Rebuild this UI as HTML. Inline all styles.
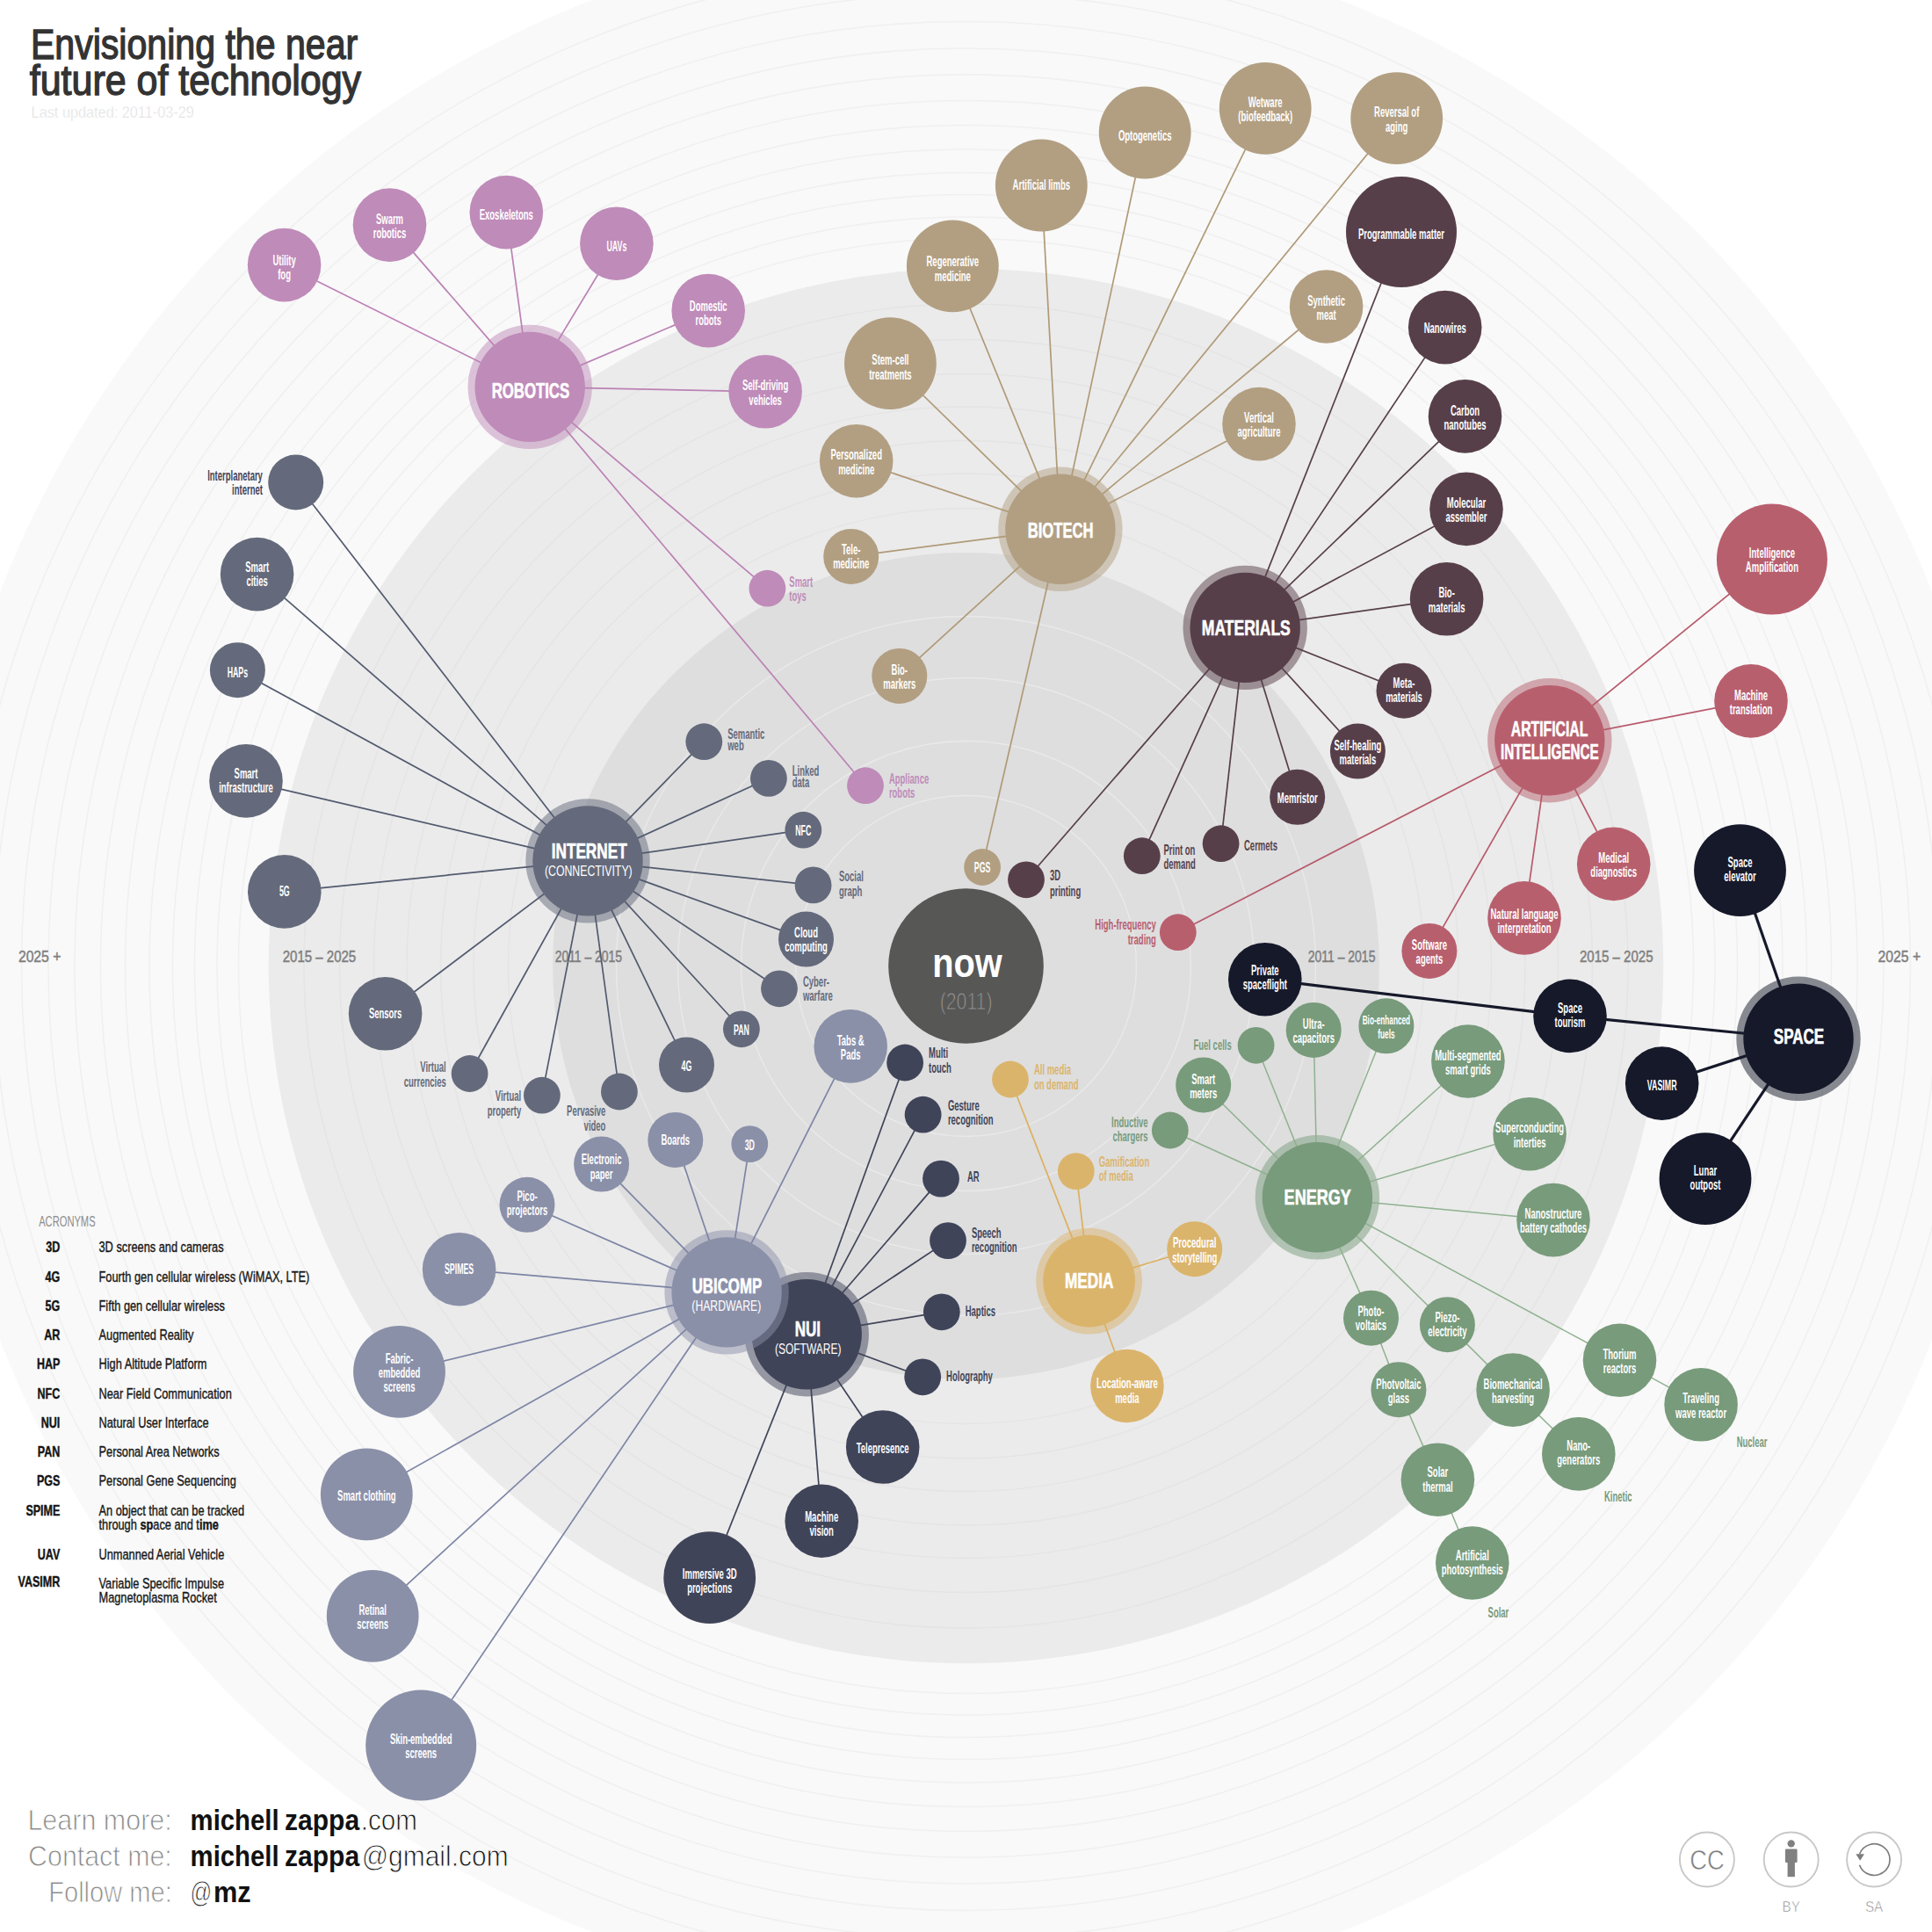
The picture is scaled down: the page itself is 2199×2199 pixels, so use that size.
<!DOCTYPE html>
<html lang="en"><head><meta charset="utf-8"><title>Envisioning the near future of technology</title>
<style>html,body{margin:0;padding:0;background:#fff}svg{display:block}text{font-family:"Liberation Sans",sans-serif}</style></head>
<body><svg width="2199" height="2199" viewBox="0 0 2199 2199">
<circle cx="1099.5" cy="1099.5" r="1179" fill="#f9f9f9"/>
<circle cx="1099.5" cy="1099.5" r="828" fill="none" stroke="#f0f0f0" stroke-width="1.6"/>
<circle cx="1099.5" cy="1099.5" r="852.5" fill="none" stroke="#f0f0f0" stroke-width="1.6"/>
<circle cx="1099.5" cy="1099.5" r="878" fill="none" stroke="#f0f0f0" stroke-width="1.6"/>
<circle cx="1099.5" cy="1099.5" r="903" fill="none" stroke="#f0f0f0" stroke-width="1.6"/>
<circle cx="1099.5" cy="1099.5" r="929.5" fill="none" stroke="#f0f0f0" stroke-width="1.6"/>
<circle cx="1099.5" cy="1099.5" r="957" fill="none" stroke="#f0f0f0" stroke-width="1.6"/>
<circle cx="1099.5" cy="1099.5" r="985" fill="none" stroke="#f0f0f0" stroke-width="1.6"/>
<circle cx="1099.5" cy="1099.5" r="1014.6" fill="none" stroke="#f0f0f0" stroke-width="1.6"/>
<circle cx="1099.5" cy="1099.5" r="1044.5" fill="none" stroke="#f0f0f0" stroke-width="1.6"/>
<circle cx="1099.5" cy="1099.5" r="1075" fill="none" stroke="#f0f0f0" stroke-width="1.6"/>
<circle cx="1099.5" cy="1099.5" r="1107" fill="none" stroke="#f0f0f0" stroke-width="1.6"/>
<circle cx="1099.5" cy="1099.5" r="1139" fill="none" stroke="#f0f0f0" stroke-width="1.6"/>
<circle cx="1099.5" cy="1099.5" r="793.7" fill="#ebebeb"/>
<circle cx="1099.5" cy="1099.5" r="521" fill="none" stroke="#e4e4e4" stroke-width="1.4"/>
<circle cx="1099.5" cy="1099.5" r="560.5" fill="none" stroke="#e4e4e4" stroke-width="1.4"/>
<circle cx="1099.5" cy="1099.5" r="598" fill="none" stroke="#e4e4e4" stroke-width="1.4"/>
<circle cx="1099.5" cy="1099.5" r="636.5" fill="none" stroke="#e4e4e4" stroke-width="1.4"/>
<circle cx="1099.5" cy="1099.5" r="674" fill="none" stroke="#e4e4e4" stroke-width="1.4"/>
<circle cx="1099.5" cy="1099.5" r="713" fill="none" stroke="#e4e4e4" stroke-width="1.4"/>
<circle cx="1099.5" cy="1099.5" r="753.5" fill="none" stroke="#e4e4e4" stroke-width="1.4"/>
<circle cx="1099.5" cy="1099.5" r="470.4" fill="#dedede"/>
<circle cx="1099.5" cy="1099.5" r="194" fill="none" stroke="#e9e9e9" stroke-width="1.4"/>
<circle cx="1099.5" cy="1099.5" r="256" fill="none" stroke="#e9e9e9" stroke-width="1.4"/>
<circle cx="1099.5" cy="1099.5" r="328" fill="none" stroke="#e9e9e9" stroke-width="1.4"/>
<circle cx="1099.5" cy="1099.5" r="398" fill="none" stroke="#e9e9e9" stroke-width="1.4"/>
<text x="20.9" y="1095.3" font-size="18.5" fill="#808080" text-anchor="start" textLength="48.5" lengthAdjust="spacingAndGlyphs" stroke="#808080" stroke-width="0.5">2025 +</text>
<text x="321.7" y="1095.3" font-size="18.5" fill="#808080" text-anchor="start" textLength="83.5" lengthAdjust="spacingAndGlyphs" stroke="#808080" stroke-width="0.5">2015 – 2025</text>
<text x="631.7" y="1095.3" font-size="18.5" fill="#808080" text-anchor="start" textLength="76.3" lengthAdjust="spacingAndGlyphs" stroke="#808080" stroke-width="0.5">2011 – 2015</text>
<text x="1488.8" y="1095.3" font-size="18.5" fill="#808080" text-anchor="start" textLength="76.6" lengthAdjust="spacingAndGlyphs" stroke="#808080" stroke-width="0.5">2011 – 2015</text>
<text x="1798.0" y="1095.3" font-size="18.5" fill="#808080" text-anchor="start" textLength="83.5" lengthAdjust="spacingAndGlyphs" stroke="#808080" stroke-width="0.5">2015 – 2025</text>
<text x="2137.6" y="1095.3" font-size="18.5" fill="#808080" text-anchor="start" textLength="48.5" lengthAdjust="spacingAndGlyphs" stroke="#808080" stroke-width="0.5">2025 +</text>
<g id="g-ROBOTICS">
<circle cx="603.2" cy="440.4" r="70.7" fill="#bf8bb9" fill-opacity="0.5"/>
<g stroke="#bb82b4" stroke-width="1.7" fill="none">
<line x1="603.2" y1="440.4" x2="323.6" y2="301.6"/>
<line x1="603.2" y1="440.4" x2="443.5" y2="256.1"/>
<line x1="603.2" y1="440.4" x2="576.3" y2="241.6"/>
<line x1="603.2" y1="440.4" x2="701.9" y2="277.2"/>
<line x1="603.2" y1="440.4" x2="806.2" y2="353.6"/>
<line x1="603.2" y1="440.4" x2="871.1" y2="445.8"/>
<line x1="603.2" y1="440.4" x2="873.4" y2="669.7"/>
<line x1="603.2" y1="440.4" x2="985" y2="894.2"/>
</g>
<circle cx="603.2" cy="440.4" r="62.7" fill="#bf8bb9"/>
<circle cx="323.6" cy="301.6" r="41.8" fill="#bf8bb9"/>
<circle cx="443.5" cy="256.1" r="41.8" fill="#bf8bb9"/>
<circle cx="576.3" cy="241.6" r="41.8" fill="#bf8bb9"/>
<circle cx="701.9" cy="277.2" r="41.8" fill="#bf8bb9"/>
<circle cx="806.2" cy="353.6" r="41.8" fill="#bf8bb9"/>
<circle cx="871.1" cy="445.8" r="41.8" fill="#bf8bb9"/>
<circle cx="873.4" cy="669.7" r="20.9" fill="#bf8bb9"/>
<circle cx="985" cy="894.2" r="20.9" fill="#bf8bb9"/>
<text x="323.6" y="302.2" font-size="16.5" fill="#fff" text-anchor="middle" font-weight="bold" textLength="26.4" lengthAdjust="spacingAndGlyphs">Utility</text>
<text x="323.6" y="318.4" font-size="16.5" fill="#fff" text-anchor="middle" font-weight="bold" textLength="14.8" lengthAdjust="spacingAndGlyphs">fog</text>
<text x="443.5" y="254.7" font-size="16.5" fill="#fff" text-anchor="middle" font-weight="bold" textLength="31.1" lengthAdjust="spacingAndGlyphs">Swarm</text>
<text x="443.5" y="270.9" font-size="16.5" fill="#fff" text-anchor="middle" font-weight="bold" textLength="37.4" lengthAdjust="spacingAndGlyphs">robotics</text>
<text x="576.3" y="250.2" font-size="16.5" fill="#fff" text-anchor="middle" font-weight="bold" textLength="61.2" lengthAdjust="spacingAndGlyphs">Exoskeletons</text>
<text x="701.9" y="286.0" font-size="16.5" fill="#fff" text-anchor="middle" font-weight="bold" textLength="22.9" lengthAdjust="spacingAndGlyphs">UAVs</text>
<text x="806.2" y="354.2" font-size="16.5" fill="#fff" text-anchor="middle" font-weight="bold" textLength="42.7" lengthAdjust="spacingAndGlyphs">Domestic</text>
<text x="806.2" y="370.4" font-size="16.5" fill="#fff" text-anchor="middle" font-weight="bold" textLength="29.5" lengthAdjust="spacingAndGlyphs">robots</text>
<text x="871.1" y="444.4" font-size="16.5" fill="#fff" text-anchor="middle" font-weight="bold" textLength="52.2" lengthAdjust="spacingAndGlyphs">Self-driving</text>
<text x="871.1" y="460.6" font-size="16.5" fill="#fff" text-anchor="middle" font-weight="bold" textLength="37.5" lengthAdjust="spacingAndGlyphs">vehicles</text>
<text x="898.3" y="667.8" font-size="16.5" fill="#bf8bb9" text-anchor="start" font-weight="bold" textLength="26.9" lengthAdjust="spacingAndGlyphs">Smart</text>
<text x="898.3" y="684.1" font-size="16.5" fill="#bf8bb9" text-anchor="start" font-weight="bold" textLength="19.5" lengthAdjust="spacingAndGlyphs">toys</text>
<text x="1011.9" y="891.5" font-size="16.5" fill="#bf8bb9" text-anchor="start" font-weight="bold" textLength="45.3" lengthAdjust="spacingAndGlyphs">Appliance</text>
<text x="1011.9" y="908.2" font-size="16.5" fill="#bf8bb9" text-anchor="start" font-weight="bold" textLength="29.5" lengthAdjust="spacingAndGlyphs">robots</text>
<text x="603.9" y="452.8" font-size="24.1" fill="#fff" text-anchor="middle" font-weight="bold" textLength="88.5" lengthAdjust="spacingAndGlyphs" stroke="#fff" stroke-width="0.6">ROBOTICS</text>
</g>
<g id="g-BIOTECH">
<circle cx="1206.9" cy="602.3" r="70.7" fill="#b29f82" fill-opacity="0.5"/>
<g stroke="#b09a78" stroke-width="1.7" fill="none">
<line x1="1206.9" y1="602.3" x2="968.7" y2="633.4"/>
<line x1="1206.9" y1="602.3" x2="974.7" y2="524.7"/>
<line x1="1206.9" y1="602.3" x2="1013.4" y2="413.6"/>
<line x1="1206.9" y1="602.3" x2="1084.3" y2="302.8"/>
<line x1="1206.9" y1="602.3" x2="1185.3" y2="211"/>
<line x1="1206.9" y1="602.3" x2="1303.2" y2="151"/>
<line x1="1206.9" y1="602.3" x2="1440.2" y2="123.3"/>
<line x1="1206.9" y1="602.3" x2="1589.7" y2="134.7"/>
<line x1="1206.9" y1="602.3" x2="1509.6" y2="349"/>
<line x1="1206.9" y1="602.3" x2="1433" y2="482.6"/>
<line x1="1206.9" y1="602.3" x2="1023.8" y2="769.4"/>
<line x1="1206.9" y1="602.3" x2="1118.1" y2="987"/>
</g>
<circle cx="1206.9" cy="602.3" r="62.7" fill="#b29f82"/>
<circle cx="968.7" cy="633.4" r="31.5" fill="#b29f82"/>
<circle cx="974.7" cy="524.7" r="41.8" fill="#b29f82"/>
<circle cx="1013.4" cy="413.6" r="52.4" fill="#b29f82"/>
<circle cx="1084.3" cy="302.8" r="52.4" fill="#b29f82"/>
<circle cx="1185.3" cy="211" r="52.4" fill="#b29f82"/>
<circle cx="1303.2" cy="151" r="52.4" fill="#b29f82"/>
<circle cx="1440.2" cy="123.3" r="52.4" fill="#b29f82"/>
<circle cx="1589.7" cy="134.7" r="52.4" fill="#b29f82"/>
<circle cx="1509.6" cy="349" r="41.8" fill="#b29f82"/>
<circle cx="1433" cy="482.6" r="41.8" fill="#b29f82"/>
<circle cx="1023.8" cy="769.4" r="31.5" fill="#b29f82"/>
<circle cx="1118.1" cy="987" r="20.9" fill="#b29f82"/>
<text x="968.7" y="630.7" font-size="16.5" fill="#fff" text-anchor="middle" font-weight="bold" textLength="21.4" lengthAdjust="spacingAndGlyphs">Tele-</text>
<text x="968.7" y="646.9" font-size="16.5" fill="#fff" text-anchor="middle" font-weight="bold" textLength="41.1" lengthAdjust="spacingAndGlyphs">medicine</text>
<text x="974.7" y="523.3" font-size="16.5" fill="#fff" text-anchor="middle" font-weight="bold" textLength="58.5" lengthAdjust="spacingAndGlyphs">Personalized</text>
<text x="974.7" y="539.5" font-size="16.5" fill="#fff" text-anchor="middle" font-weight="bold" textLength="41.1" lengthAdjust="spacingAndGlyphs">medicine</text>
<text x="1013.4" y="415.4" font-size="16.5" fill="#fff" text-anchor="middle" font-weight="bold" textLength="42.2" lengthAdjust="spacingAndGlyphs">Stem-cell</text>
<text x="1013.4" y="431.6" font-size="16.5" fill="#fff" text-anchor="middle" font-weight="bold" textLength="48.5" lengthAdjust="spacingAndGlyphs">treatments</text>
<text x="1084.3" y="303.4" font-size="16.5" fill="#fff" text-anchor="middle" font-weight="bold" textLength="59.6" lengthAdjust="spacingAndGlyphs">Regenerative</text>
<text x="1084.3" y="319.6" font-size="16.5" fill="#fff" text-anchor="middle" font-weight="bold" textLength="41.1" lengthAdjust="spacingAndGlyphs">medicine</text>
<text x="1185.3" y="215.6" font-size="16.5" fill="#fff" text-anchor="middle" font-weight="bold" textLength="65.4" lengthAdjust="spacingAndGlyphs">Artificial limbs</text>
<text x="1303.2" y="160.0" font-size="16.5" fill="#fff" text-anchor="middle" font-weight="bold" textLength="60.6" lengthAdjust="spacingAndGlyphs">Optogenetics</text>
<text x="1440.2" y="121.9" font-size="16.5" fill="#fff" text-anchor="middle" font-weight="bold" textLength="38.8" lengthAdjust="spacingAndGlyphs">Wetware</text>
<text x="1440.2" y="138.1" font-size="16.5" fill="#fff" text-anchor="middle" font-weight="bold" textLength="61.7" lengthAdjust="spacingAndGlyphs">(biofeedback)</text>
<text x="1589.7" y="133.3" font-size="16.5" fill="#fff" text-anchor="middle" font-weight="bold" textLength="51.2" lengthAdjust="spacingAndGlyphs">Reversal of</text>
<text x="1589.7" y="149.5" font-size="16.5" fill="#fff" text-anchor="middle" font-weight="bold" textLength="25.3" lengthAdjust="spacingAndGlyphs">aging</text>
<text x="1509.6" y="347.6" font-size="16.5" fill="#fff" text-anchor="middle" font-weight="bold" textLength="42.7" lengthAdjust="spacingAndGlyphs">Synthetic</text>
<text x="1509.6" y="363.8" font-size="16.5" fill="#fff" text-anchor="middle" font-weight="bold" textLength="22.1" lengthAdjust="spacingAndGlyphs">meat</text>
<text x="1433.0" y="481.2" font-size="16.5" fill="#fff" text-anchor="middle" font-weight="bold" textLength="33.8" lengthAdjust="spacingAndGlyphs">Vertical</text>
<text x="1433.0" y="497.4" font-size="16.5" fill="#fff" text-anchor="middle" font-weight="bold" textLength="49.0" lengthAdjust="spacingAndGlyphs">agriculture</text>
<text x="1023.8" y="768.0" font-size="16.5" fill="#fff" text-anchor="middle" font-weight="bold" textLength="18.4" lengthAdjust="spacingAndGlyphs">Bio-</text>
<text x="1023.8" y="784.2" font-size="16.5" fill="#fff" text-anchor="middle" font-weight="bold" textLength="36.9" lengthAdjust="spacingAndGlyphs">markers</text>
<text x="1118.1" y="993.3" font-size="16.5" fill="#fff" text-anchor="middle" font-weight="bold" textLength="18.6" lengthAdjust="spacingAndGlyphs">PGS</text>
<text x="1207.1" y="611.8" font-size="24.1" fill="#fff" text-anchor="middle" font-weight="bold" textLength="74.8" lengthAdjust="spacingAndGlyphs" stroke="#fff" stroke-width="0.6">BIOTECH</text>
</g>
<g id="g-MATERIALS">
<circle cx="1417.2" cy="714.4" r="70.7" fill="#573f4a" fill-opacity="0.5"/>
<g stroke="#573f4a" stroke-width="1.7" fill="none">
<line x1="1417.2" y1="714.4" x2="1595" y2="264"/>
<line x1="1417.2" y1="714.4" x2="1644.7" y2="372.6"/>
<line x1="1417.2" y1="714.4" x2="1667.5" y2="473.9"/>
<line x1="1417.2" y1="714.4" x2="1669" y2="579.4"/>
<line x1="1417.2" y1="714.4" x2="1646.6" y2="681.8"/>
<line x1="1417.2" y1="714.4" x2="1598" y2="786.2"/>
<line x1="1417.2" y1="714.4" x2="1545.4" y2="855.1"/>
<line x1="1417.2" y1="714.4" x2="1476.7" y2="907.3"/>
<line x1="1417.2" y1="714.4" x2="1389.6" y2="960.2"/>
<line x1="1417.2" y1="714.4" x2="1299.8" y2="974.2"/>
<line x1="1417.2" y1="714.4" x2="1168" y2="1001.3"/>
</g>
<circle cx="1417.2" cy="714.4" r="62.7" fill="#573f4a"/>
<circle cx="1595" cy="264" r="63" fill="#573f4a"/>
<circle cx="1644.7" cy="372.6" r="41.8" fill="#573f4a"/>
<circle cx="1667.5" cy="473.9" r="41.8" fill="#573f4a"/>
<circle cx="1669" cy="579.4" r="41.8" fill="#573f4a"/>
<circle cx="1646.6" cy="681.8" r="41.8" fill="#573f4a"/>
<circle cx="1598" cy="786.2" r="31.5" fill="#573f4a"/>
<circle cx="1545.4" cy="855.1" r="31.5" fill="#573f4a"/>
<circle cx="1476.7" cy="907.3" r="31.5" fill="#573f4a"/>
<circle cx="1389.6" cy="960.2" r="20.9" fill="#573f4a"/>
<circle cx="1299.8" cy="974.2" r="20.9" fill="#573f4a"/>
<circle cx="1168" cy="1001.3" r="20.9" fill="#573f4a"/>
<text x="1595.0" y="272.3" font-size="16.5" fill="#fff" text-anchor="middle" font-weight="bold" textLength="98.1" lengthAdjust="spacingAndGlyphs">Programmable matter</text>
<text x="1644.7" y="379.2" font-size="16.5" fill="#fff" text-anchor="middle" font-weight="bold" textLength="48.0" lengthAdjust="spacingAndGlyphs">Nanowires</text>
<text x="1667.5" y="472.5" font-size="16.5" fill="#fff" text-anchor="middle" font-weight="bold" textLength="33.2" lengthAdjust="spacingAndGlyphs">Carbon</text>
<text x="1667.5" y="488.7" font-size="16.5" fill="#fff" text-anchor="middle" font-weight="bold" textLength="48.0" lengthAdjust="spacingAndGlyphs">nanotubes</text>
<text x="1669.0" y="578.0" font-size="16.5" fill="#fff" text-anchor="middle" font-weight="bold" textLength="44.3" lengthAdjust="spacingAndGlyphs">Molecular</text>
<text x="1669.0" y="594.2" font-size="16.5" fill="#fff" text-anchor="middle" font-weight="bold" textLength="46.9" lengthAdjust="spacingAndGlyphs">assembler</text>
<text x="1646.6" y="680.4" font-size="16.5" fill="#fff" text-anchor="middle" font-weight="bold" textLength="18.4" lengthAdjust="spacingAndGlyphs">Bio-</text>
<text x="1646.6" y="696.6" font-size="16.5" fill="#fff" text-anchor="middle" font-weight="bold" textLength="41.7" lengthAdjust="spacingAndGlyphs">materials</text>
<text x="1598.0" y="782.6" font-size="16.5" fill="#fff" text-anchor="middle" font-weight="bold" textLength="24.8" lengthAdjust="spacingAndGlyphs">Meta-</text>
<text x="1598.0" y="798.8" font-size="16.5" fill="#fff" text-anchor="middle" font-weight="bold" textLength="41.7" lengthAdjust="spacingAndGlyphs">materials</text>
<text x="1545.4" y="853.7" font-size="16.5" fill="#fff" text-anchor="middle" font-weight="bold" textLength="53.8" lengthAdjust="spacingAndGlyphs">Self-healing</text>
<text x="1545.4" y="869.9" font-size="16.5" fill="#fff" text-anchor="middle" font-weight="bold" textLength="41.7" lengthAdjust="spacingAndGlyphs">materials</text>
<text x="1476.7" y="913.9" font-size="16.5" fill="#fff" text-anchor="middle" font-weight="bold" textLength="45.9" lengthAdjust="spacingAndGlyphs">Memristor</text>
<text x="1416.0" y="967.6" font-size="16.5" fill="#573f4a" text-anchor="start" font-weight="bold" textLength="38.0" lengthAdjust="spacingAndGlyphs">Cermets</text>
<text x="1324.5" y="972.7" font-size="16.5" fill="#573f4a" text-anchor="start" font-weight="bold" textLength="35.8" lengthAdjust="spacingAndGlyphs">Print on</text>
<text x="1324.5" y="989.2" font-size="16.5" fill="#573f4a" text-anchor="start" font-weight="bold" textLength="36.4" lengthAdjust="spacingAndGlyphs">demand</text>
<text x="1194.9" y="1001.7" font-size="16.5" fill="#573f4a" text-anchor="start" font-weight="bold" textLength="12.1" lengthAdjust="spacingAndGlyphs">3D</text>
<text x="1194.9" y="1019.5" font-size="16.5" fill="#573f4a" text-anchor="start" font-weight="bold" textLength="35.3" lengthAdjust="spacingAndGlyphs">printing</text>
<text x="1418.3" y="722.8" font-size="24.1" fill="#fff" text-anchor="middle" font-weight="bold" textLength="101.0" lengthAdjust="spacingAndGlyphs" stroke="#fff" stroke-width="0.6">MATERIALS</text>
</g>
<g id="g-AI">
<circle cx="1763.8" cy="842.7" r="70.7" fill="#b85f6e" fill-opacity="0.5"/>
<g stroke="#b75a6b" stroke-width="1.7" fill="none">
<line x1="1763.8" y1="842.7" x2="2016.9" y2="636.6"/>
<line x1="1763.8" y1="842.7" x2="1993" y2="797.9"/>
<line x1="1763.8" y1="842.7" x2="1836.7" y2="983.4"/>
<line x1="1763.8" y1="842.7" x2="1735" y2="1044.9"/>
<line x1="1763.8" y1="842.7" x2="1626.9" y2="1082.4"/>
<line x1="1763.8" y1="842.7" x2="1340.8" y2="1061.2"/>
</g>
<circle cx="1763.8" cy="842.7" r="62.7" fill="#b85f6e"/>
<circle cx="2016.9" cy="636.6" r="63" fill="#b85f6e"/>
<circle cx="1993" cy="797.9" r="41.8" fill="#b85f6e"/>
<circle cx="1836.7" cy="983.4" r="41.8" fill="#b85f6e"/>
<circle cx="1735" cy="1044.9" r="41.8" fill="#b85f6e"/>
<circle cx="1626.9" cy="1082.4" r="31.5" fill="#b85f6e"/>
<circle cx="1340.8" cy="1061.2" r="20.9" fill="#b85f6e"/>
<text x="2016.9" y="635.2" font-size="16.5" fill="#fff" text-anchor="middle" font-weight="bold" textLength="52.2" lengthAdjust="spacingAndGlyphs">Intelligence</text>
<text x="2016.9" y="651.4" font-size="16.5" fill="#fff" text-anchor="middle" font-weight="bold" textLength="60.1" lengthAdjust="spacingAndGlyphs">Amplification</text>
<text x="1993.0" y="796.5" font-size="16.5" fill="#fff" text-anchor="middle" font-weight="bold" textLength="38.0" lengthAdjust="spacingAndGlyphs">Machine</text>
<text x="1993.0" y="812.7" font-size="16.5" fill="#fff" text-anchor="middle" font-weight="bold" textLength="48.5" lengthAdjust="spacingAndGlyphs">translation</text>
<text x="1836.7" y="982.0" font-size="16.5" fill="#fff" text-anchor="middle" font-weight="bold" textLength="34.8" lengthAdjust="spacingAndGlyphs">Medical</text>
<text x="1836.7" y="998.2" font-size="16.5" fill="#fff" text-anchor="middle" font-weight="bold" textLength="52.7" lengthAdjust="spacingAndGlyphs">diagnostics</text>
<text x="1735.0" y="1046.0" font-size="16.5" fill="#fff" text-anchor="middle" font-weight="bold" textLength="77.0" lengthAdjust="spacingAndGlyphs">Natural language</text>
<text x="1735.0" y="1062.2" font-size="16.5" fill="#fff" text-anchor="middle" font-weight="bold" textLength="61.1" lengthAdjust="spacingAndGlyphs">interpretation</text>
<text x="1626.9" y="1081.0" font-size="16.5" fill="#fff" text-anchor="middle" font-weight="bold" textLength="40.1" lengthAdjust="spacingAndGlyphs">Software</text>
<text x="1626.9" y="1097.2" font-size="16.5" fill="#fff" text-anchor="middle" font-weight="bold" textLength="30.6" lengthAdjust="spacingAndGlyphs">agents</text>
<text x="1315.9" y="1058.2" font-size="16.5" fill="#b85f6e" text-anchor="end" font-weight="bold" textLength="69.6" lengthAdjust="spacingAndGlyphs">High-frequency</text>
<text x="1315.9" y="1074.5" font-size="16.5" fill="#b85f6e" text-anchor="end" font-weight="bold" textLength="32.2" lengthAdjust="spacingAndGlyphs">trading</text>
<text x="1763.6" y="838.2" font-size="24.1" fill="#fff" text-anchor="middle" font-weight="bold" textLength="87.6" lengthAdjust="spacingAndGlyphs" stroke="#fff" stroke-width="0.6">ARTIFICIAL</text>
<text x="1763.9" y="864.0" font-size="24.1" fill="#fff" text-anchor="middle" font-weight="bold" textLength="111.8" lengthAdjust="spacingAndGlyphs" stroke="#fff" stroke-width="0.6">INTELLIGENCE</text>
</g>
<g id="g-SPACE">
<circle cx="2047" cy="1182.3" r="70.7" fill="#16192a" fill-opacity="0.5"/>
<g stroke="#16192a" stroke-width="3.2" fill="none">
<line x1="2047" y1="1182.3" x2="1980.5" y2="990.6"/>
<line x1="2047" y1="1182.3" x2="1787" y2="1156.4"/>
<line x1="1787" y1="1156.4" x2="1439.8" y2="1114.7"/>
<line x1="2047" y1="1182.3" x2="1891.7" y2="1233.1"/>
<line x1="2047" y1="1182.3" x2="1941" y2="1341.6"/>
</g>
<circle cx="2047" cy="1182.3" r="62.7" fill="#16192a"/>
<circle cx="1980.5" cy="990.6" r="52.4" fill="#16192a"/>
<circle cx="1787" cy="1156.4" r="41.8" fill="#16192a"/>
<circle cx="1439.8" cy="1114.7" r="41.8" fill="#16192a"/>
<circle cx="1891.7" cy="1233.1" r="41.8" fill="#16192a"/>
<circle cx="1941" cy="1341.6" r="52.4" fill="#16192a"/>
<text x="1980.5" y="986.5" font-size="16.5" fill="#fff" text-anchor="middle" font-weight="bold" textLength="28.0" lengthAdjust="spacingAndGlyphs">Space</text>
<text x="1980.5" y="1002.7" font-size="16.5" fill="#fff" text-anchor="middle" font-weight="bold" textLength="36.4" lengthAdjust="spacingAndGlyphs">elevator</text>
<text x="1787.0" y="1152.6" font-size="16.5" fill="#fff" text-anchor="middle" font-weight="bold" textLength="28.0" lengthAdjust="spacingAndGlyphs">Space</text>
<text x="1787.0" y="1168.8" font-size="16.5" fill="#fff" text-anchor="middle" font-weight="bold" textLength="34.8" lengthAdjust="spacingAndGlyphs">tourism</text>
<text x="1439.8" y="1109.7" font-size="16.5" fill="#fff" text-anchor="middle" font-weight="bold" textLength="31.6" lengthAdjust="spacingAndGlyphs">Private</text>
<text x="1439.8" y="1125.9" font-size="16.5" fill="#fff" text-anchor="middle" font-weight="bold" textLength="50.1" lengthAdjust="spacingAndGlyphs">spaceflight</text>
<text x="1891.7" y="1241.4" font-size="16.5" fill="#fff" text-anchor="middle" font-weight="bold" textLength="33.7" lengthAdjust="spacingAndGlyphs">VASIMR</text>
<text x="1941.0" y="1337.6" font-size="16.5" fill="#fff" text-anchor="middle" font-weight="bold" textLength="26.4" lengthAdjust="spacingAndGlyphs">Lunar</text>
<text x="1941.0" y="1353.8" font-size="16.5" fill="#fff" text-anchor="middle" font-weight="bold" textLength="34.8" lengthAdjust="spacingAndGlyphs">outpost</text>
<text x="2047.5" y="1187.7" font-size="24.1" fill="#fff" text-anchor="middle" font-weight="bold" textLength="57.4" lengthAdjust="spacingAndGlyphs" stroke="#fff" stroke-width="0.6">SPACE</text>
</g>
<g id="g-ENERGY">
<circle cx="1499.4" cy="1362.8" r="70.7" fill="#789b7b" fill-opacity="0.5"/>
<g stroke="#8fb18f" stroke-width="1.5" fill="none">
<line x1="1499.4" y1="1362.8" x2="1429.6" y2="1189.8"/>
<line x1="1499.4" y1="1362.8" x2="1369.7" y2="1235"/>
<line x1="1499.4" y1="1362.8" x2="1331.8" y2="1286.5"/>
<line x1="1499.4" y1="1362.8" x2="1495.2" y2="1172.4"/>
<line x1="1499.4" y1="1362.8" x2="1577.9" y2="1167.8"/>
<line x1="1499.4" y1="1362.8" x2="1670.9" y2="1208"/>
<line x1="1499.4" y1="1362.8" x2="1741.1" y2="1290.7"/>
<line x1="1499.4" y1="1362.8" x2="1768" y2="1388.6"/>
<line x1="1499.4" y1="1362.8" x2="1560.5" y2="1500.2"/>
<line x1="1560.5" y1="1500.2" x2="1591.9" y2="1581.7"/>
<line x1="1591.9" y1="1581.7" x2="1636.4" y2="1684.2"/>
<line x1="1636.4" y1="1684.2" x2="1675.8" y2="1779"/>
<line x1="1499.4" y1="1362.8" x2="1647.4" y2="1507.7"/>
<line x1="1647.4" y1="1507.7" x2="1722.1" y2="1582.1"/>
<line x1="1722.1" y1="1582.1" x2="1796.8" y2="1654.9"/>
<line x1="1499.4" y1="1362.8" x2="1843.5" y2="1548.3"/>
<line x1="1843.5" y1="1548.3" x2="1936.1" y2="1598.8"/>
</g>
<circle cx="1499.4" cy="1362.8" r="62.7" fill="#789b7b"/>
<circle cx="1429.6" cy="1189.8" r="20.9" fill="#789b7b"/>
<circle cx="1369.7" cy="1235" r="31.5" fill="#789b7b"/>
<circle cx="1331.8" cy="1286.5" r="20.9" fill="#789b7b"/>
<circle cx="1495.2" cy="1172.4" r="31.5" fill="#789b7b"/>
<circle cx="1577.9" cy="1167.8" r="31.5" fill="#789b7b"/>
<circle cx="1670.9" cy="1208" r="41.8" fill="#789b7b"/>
<circle cx="1741.1" cy="1290.7" r="41.8" fill="#789b7b"/>
<circle cx="1768" cy="1388.6" r="41.8" fill="#789b7b"/>
<circle cx="1560.5" cy="1500.2" r="31.5" fill="#789b7b"/>
<circle cx="1591.9" cy="1581.7" r="31.5" fill="#789b7b"/>
<circle cx="1636.4" cy="1684.2" r="41.8" fill="#789b7b"/>
<circle cx="1675.8" cy="1779" r="41.8" fill="#789b7b"/>
<circle cx="1647.4" cy="1507.7" r="31.5" fill="#789b7b"/>
<circle cx="1722.1" cy="1582.1" r="41.8" fill="#789b7b"/>
<circle cx="1796.8" cy="1654.9" r="41.8" fill="#789b7b"/>
<circle cx="1843.5" cy="1548.3" r="41.8" fill="#789b7b"/>
<circle cx="1936.1" cy="1598.8" r="41.8" fill="#789b7b"/>
<text x="1401.7" y="1194.7" font-size="16.5" fill="#789b7b" text-anchor="end" font-weight="bold" textLength="43.2" lengthAdjust="spacingAndGlyphs">Fuel cells</text>
<text x="1369.7" y="1233.6" font-size="16.5" fill="#fff" text-anchor="middle" font-weight="bold" textLength="26.9" lengthAdjust="spacingAndGlyphs">Smart</text>
<text x="1369.7" y="1249.8" font-size="16.5" fill="#fff" text-anchor="middle" font-weight="bold" textLength="31.1" lengthAdjust="spacingAndGlyphs">meters</text>
<text x="1306.6" y="1283.4" font-size="16.5" fill="#789b7b" text-anchor="end" font-weight="bold" textLength="41.6" lengthAdjust="spacingAndGlyphs">Inductive</text>
<text x="1306.6" y="1299.4" font-size="16.5" fill="#789b7b" text-anchor="end" font-weight="bold" textLength="40.1" lengthAdjust="spacingAndGlyphs">chargers</text>
<text x="1495.2" y="1171.0" font-size="16.5" fill="#fff" text-anchor="middle" font-weight="bold" textLength="24.8" lengthAdjust="spacingAndGlyphs">Ultra-</text>
<text x="1495.2" y="1187.2" font-size="16.5" fill="#fff" text-anchor="middle" font-weight="bold" textLength="47.5" lengthAdjust="spacingAndGlyphs">capacitors</text>
<text x="1577.9" y="1166.1" font-size="14.2" fill="#fff" text-anchor="middle" font-weight="bold" textLength="54.5" lengthAdjust="spacingAndGlyphs">Bio-enhanced</text>
<text x="1577.9" y="1181.7" font-size="14.2" fill="#fff" text-anchor="middle" font-weight="bold" textLength="19.2" lengthAdjust="spacingAndGlyphs">fuels</text>
<text x="1670.9" y="1206.6" font-size="16.5" fill="#fff" text-anchor="middle" font-weight="bold" textLength="75.4" lengthAdjust="spacingAndGlyphs">Multi-segmented</text>
<text x="1670.9" y="1222.8" font-size="16.5" fill="#fff" text-anchor="middle" font-weight="bold" textLength="51.7" lengthAdjust="spacingAndGlyphs">smart grids</text>
<text x="1741.1" y="1289.3" font-size="16.5" fill="#fff" text-anchor="middle" font-weight="bold" textLength="78.0" lengthAdjust="spacingAndGlyphs">Superconducting</text>
<text x="1741.1" y="1305.5" font-size="16.5" fill="#fff" text-anchor="middle" font-weight="bold" textLength="36.9" lengthAdjust="spacingAndGlyphs">interties</text>
<text x="1768.0" y="1387.2" font-size="16.5" fill="#fff" text-anchor="middle" font-weight="bold" textLength="64.8" lengthAdjust="spacingAndGlyphs">Nanostructure</text>
<text x="1768.0" y="1403.4" font-size="16.5" fill="#fff" text-anchor="middle" font-weight="bold" textLength="75.9" lengthAdjust="spacingAndGlyphs">battery cathodes</text>
<text x="1560.5" y="1497.6" font-size="16.5" fill="#fff" text-anchor="middle" font-weight="bold" textLength="30.0" lengthAdjust="spacingAndGlyphs">Photo-</text>
<text x="1560.5" y="1513.8" font-size="16.5" fill="#fff" text-anchor="middle" font-weight="bold" textLength="35.3" lengthAdjust="spacingAndGlyphs">voltaics</text>
<text x="1591.9" y="1581.2" font-size="16.5" fill="#fff" text-anchor="middle" font-weight="bold" textLength="51.1" lengthAdjust="spacingAndGlyphs">Photvoltaic</text>
<text x="1591.9" y="1597.4" font-size="16.5" fill="#fff" text-anchor="middle" font-weight="bold" textLength="24.3" lengthAdjust="spacingAndGlyphs">glass</text>
<text x="1636.4" y="1681.4" font-size="16.5" fill="#fff" text-anchor="middle" font-weight="bold" textLength="23.7" lengthAdjust="spacingAndGlyphs">Solar</text>
<text x="1636.4" y="1697.6" font-size="16.5" fill="#fff" text-anchor="middle" font-weight="bold" textLength="34.3" lengthAdjust="spacingAndGlyphs">thermal</text>
<text x="1675.8" y="1775.7" font-size="16.5" fill="#fff" text-anchor="middle" font-weight="bold" textLength="38.0" lengthAdjust="spacingAndGlyphs">Artificial</text>
<text x="1675.8" y="1791.9" font-size="16.5" fill="#fff" text-anchor="middle" font-weight="bold" textLength="70.1" lengthAdjust="spacingAndGlyphs">photosynthesis</text>
<text x="1647.4" y="1504.5" font-size="16.5" fill="#fff" text-anchor="middle" font-weight="bold" textLength="27.9" lengthAdjust="spacingAndGlyphs">Piezo-</text>
<text x="1647.4" y="1520.7" font-size="16.5" fill="#fff" text-anchor="middle" font-weight="bold" textLength="44.3" lengthAdjust="spacingAndGlyphs">electricity</text>
<text x="1722.1" y="1580.7" font-size="16.5" fill="#fff" text-anchor="middle" font-weight="bold" textLength="67.0" lengthAdjust="spacingAndGlyphs">Biomechanical</text>
<text x="1722.1" y="1596.9" font-size="16.5" fill="#fff" text-anchor="middle" font-weight="bold" textLength="48.0" lengthAdjust="spacingAndGlyphs">harvesting</text>
<text x="1796.8" y="1650.8" font-size="16.5" fill="#fff" text-anchor="middle" font-weight="bold" textLength="26.9" lengthAdjust="spacingAndGlyphs">Nano-</text>
<text x="1796.8" y="1667.0" font-size="16.5" fill="#fff" text-anchor="middle" font-weight="bold" textLength="49.0" lengthAdjust="spacingAndGlyphs">generators</text>
<text x="1843.5" y="1546.9" font-size="16.5" fill="#fff" text-anchor="middle" font-weight="bold" textLength="37.9" lengthAdjust="spacingAndGlyphs">Thorium</text>
<text x="1843.5" y="1563.1" font-size="16.5" fill="#fff" text-anchor="middle" font-weight="bold" textLength="37.4" lengthAdjust="spacingAndGlyphs">reactors</text>
<text x="1936.1" y="1597.4" font-size="16.5" fill="#fff" text-anchor="middle" font-weight="bold" textLength="41.7" lengthAdjust="spacingAndGlyphs">Traveling</text>
<text x="1936.1" y="1613.6" font-size="16.5" fill="#fff" text-anchor="middle" font-weight="bold" textLength="58.0" lengthAdjust="spacingAndGlyphs">wave reactor</text>
<text x="1499.7" y="1371.0" font-size="24.1" fill="#fff" text-anchor="middle" font-weight="bold" textLength="76.2" lengthAdjust="spacingAndGlyphs" stroke="#fff" stroke-width="0.6">ENERGY</text>
</g>
<g id="g-MEDIA">
<circle cx="1239.6" cy="1458.1" r="60.4" fill="#dbb46c" fill-opacity="0.5"/>
<g stroke="#dcb060" stroke-width="1.7" fill="none">
<line x1="1239.6" y1="1458.1" x2="1150" y2="1228.5"/>
<line x1="1239.6" y1="1458.1" x2="1224.8" y2="1333.1"/>
<line x1="1239.6" y1="1458.1" x2="1359.7" y2="1421.7"/>
<line x1="1239.6" y1="1458.1" x2="1282.9" y2="1577.5"/>
</g>
<circle cx="1239.6" cy="1458.1" r="52.4" fill="#dbb46c"/>
<circle cx="1150" cy="1228.5" r="20.9" fill="#dbb46c"/>
<circle cx="1224.8" cy="1333.1" r="20.9" fill="#dbb46c"/>
<circle cx="1359.7" cy="1421.7" r="31.5" fill="#dbb46c"/>
<circle cx="1282.9" cy="1577.5" r="41.8" fill="#dbb46c"/>
<text x="1176.9" y="1223.2" font-size="16.5" fill="#dbb46c" text-anchor="start" font-weight="bold" textLength="42.2" lengthAdjust="spacingAndGlyphs">All media</text>
<text x="1176.9" y="1239.5" font-size="16.5" fill="#dbb46c" text-anchor="start" font-weight="bold" textLength="50.6" lengthAdjust="spacingAndGlyphs">on demand</text>
<text x="1250.7" y="1327.8" font-size="16.5" fill="#dbb46c" text-anchor="start" font-weight="bold" textLength="57.5" lengthAdjust="spacingAndGlyphs">Gamification</text>
<text x="1250.7" y="1344.3" font-size="16.5" fill="#dbb46c" text-anchor="start" font-weight="bold" textLength="39.0" lengthAdjust="spacingAndGlyphs">of media</text>
<text x="1359.7" y="1420.3" font-size="16.5" fill="#fff" text-anchor="middle" font-weight="bold" textLength="49.6" lengthAdjust="spacingAndGlyphs">Procedural</text>
<text x="1359.7" y="1436.5" font-size="16.5" fill="#fff" text-anchor="middle" font-weight="bold" textLength="51.1" lengthAdjust="spacingAndGlyphs">storytelling</text>
<text x="1282.9" y="1579.9" font-size="16.5" fill="#fff" text-anchor="middle" font-weight="bold" textLength="69.6" lengthAdjust="spacingAndGlyphs">Location-aware</text>
<text x="1282.9" y="1596.7" font-size="16.5" fill="#fff" text-anchor="middle" font-weight="bold" textLength="27.4" lengthAdjust="spacingAndGlyphs">media</text>
<text x="1239.7" y="1465.8" font-size="24.1" fill="#fff" text-anchor="middle" font-weight="bold" textLength="55.3" lengthAdjust="spacingAndGlyphs" stroke="#fff" stroke-width="0.6">MEDIA</text>
</g>
<g id="g-INTERNET">
<circle cx="669" cy="979.9" r="70.7" fill="#646a7b" fill-opacity="0.5"/>
<g stroke="#525a6e" stroke-width="1.7" fill="none">
<line x1="669" y1="979.9" x2="336.7" y2="549"/>
<line x1="669" y1="979.9" x2="292.6" y2="653.6"/>
<line x1="669" y1="979.9" x2="270.4" y2="762.7"/>
<line x1="669" y1="979.9" x2="280" y2="888.9"/>
<line x1="669" y1="979.9" x2="323.8" y2="1014.9"/>
<line x1="669" y1="979.9" x2="438.6" y2="1153.8"/>
<line x1="669" y1="979.9" x2="534.6" y2="1222"/>
<line x1="669" y1="979.9" x2="616.9" y2="1246.7"/>
<line x1="669" y1="979.9" x2="704.9" y2="1242.5"/>
<line x1="669" y1="979.9" x2="781.5" y2="1212.1"/>
<line x1="669" y1="979.9" x2="843.9" y2="1171.3"/>
<line x1="669" y1="979.9" x2="887" y2="1125.3"/>
<line x1="669" y1="979.9" x2="917.5" y2="1069.1"/>
<line x1="669" y1="979.9" x2="925.6" y2="1007.4"/>
<line x1="669" y1="979.9" x2="914.3" y2="944.7"/>
<line x1="669" y1="979.9" x2="874.9" y2="885.9"/>
<line x1="669" y1="979.9" x2="801.3" y2="844.2"/>
</g>
<circle cx="669" cy="979.9" r="62.7" fill="#646a7b"/>
<circle cx="336.7" cy="549" r="31.5" fill="#646a7b"/>
<circle cx="292.6" cy="653.6" r="41.8" fill="#646a7b"/>
<circle cx="270.4" cy="762.7" r="31.5" fill="#646a7b"/>
<circle cx="280" cy="888.9" r="41.8" fill="#646a7b"/>
<circle cx="323.8" cy="1014.9" r="41.8" fill="#646a7b"/>
<circle cx="438.6" cy="1153.8" r="41.8" fill="#646a7b"/>
<circle cx="534.6" cy="1222" r="20.9" fill="#646a7b"/>
<circle cx="616.9" cy="1246.7" r="20.9" fill="#646a7b"/>
<circle cx="704.9" cy="1242.5" r="20.9" fill="#646a7b"/>
<circle cx="781.5" cy="1212.1" r="31.5" fill="#646a7b"/>
<circle cx="843.9" cy="1171.3" r="20.9" fill="#646a7b"/>
<circle cx="887" cy="1125.3" r="20.9" fill="#646a7b"/>
<circle cx="917.5" cy="1069.1" r="31.5" fill="#646a7b"/>
<circle cx="925.6" cy="1007.4" r="20.9" fill="#646a7b"/>
<circle cx="914.3" cy="944.7" r="20.9" fill="#646a7b"/>
<circle cx="874.9" cy="885.9" r="20.9" fill="#646a7b"/>
<circle cx="801.3" cy="844.2" r="20.9" fill="#646a7b"/>
<text x="298.9" y="547.1" font-size="16.5" fill="#404459" text-anchor="end" font-weight="bold" textLength="62.7" lengthAdjust="spacingAndGlyphs">Interplanetary</text>
<text x="298.9" y="562.5" font-size="16.5" fill="#404459" text-anchor="end" font-weight="bold" textLength="34.8" lengthAdjust="spacingAndGlyphs">internet</text>
<text x="292.6" y="650.5" font-size="16.5" fill="#fff" text-anchor="middle" font-weight="bold" textLength="26.9" lengthAdjust="spacingAndGlyphs">Smart</text>
<text x="292.6" y="666.7" font-size="16.5" fill="#fff" text-anchor="middle" font-weight="bold" textLength="24.3" lengthAdjust="spacingAndGlyphs">cities</text>
<text x="270.4" y="771.0" font-size="16.5" fill="#fff" text-anchor="middle" font-weight="bold" textLength="23.5" lengthAdjust="spacingAndGlyphs">HAPs</text>
<text x="280.0" y="885.5" font-size="16.5" fill="#fff" text-anchor="middle" font-weight="bold" textLength="26.9" lengthAdjust="spacingAndGlyphs">Smart</text>
<text x="280.0" y="901.7" font-size="16.5" fill="#fff" text-anchor="middle" font-weight="bold" textLength="61.7" lengthAdjust="spacingAndGlyphs">infrastructure</text>
<text x="323.8" y="1020.0" font-size="16.5" fill="#fff" text-anchor="middle" font-weight="bold" textLength="11.8" lengthAdjust="spacingAndGlyphs">5G</text>
<text x="438.6" y="1159.4" font-size="16.5" fill="#fff" text-anchor="middle" font-weight="bold" textLength="37.4" lengthAdjust="spacingAndGlyphs">Sensors</text>
<text x="507.7" y="1220.3" font-size="16.5" fill="#646a7b" text-anchor="end" font-weight="bold" textLength="29.4" lengthAdjust="spacingAndGlyphs">Virtual</text>
<text x="507.7" y="1236.7" font-size="16.5" fill="#646a7b" text-anchor="end" font-weight="bold" textLength="48.0" lengthAdjust="spacingAndGlyphs">currencies</text>
<text x="593.2" y="1252.7" font-size="16.5" fill="#646a7b" text-anchor="end" font-weight="bold" textLength="29.4" lengthAdjust="spacingAndGlyphs">Virtual</text>
<text x="593.2" y="1269.7" font-size="16.5" fill="#646a7b" text-anchor="end" font-weight="bold" textLength="38.5" lengthAdjust="spacingAndGlyphs">property</text>
<text x="689.4" y="1270.1" font-size="16.5" fill="#646a7b" text-anchor="end" font-weight="bold" textLength="44.3" lengthAdjust="spacingAndGlyphs">Pervasive</text>
<text x="689.4" y="1287.2" font-size="16.5" fill="#646a7b" text-anchor="end" font-weight="bold" textLength="24.8" lengthAdjust="spacingAndGlyphs">video</text>
<text x="781.5" y="1218.7" font-size="16.5" fill="#fff" text-anchor="middle" font-weight="bold" textLength="11.8" lengthAdjust="spacingAndGlyphs">4G</text>
<text x="843.9" y="1177.9" font-size="16.5" fill="#fff" text-anchor="middle" font-weight="bold" textLength="18.0" lengthAdjust="spacingAndGlyphs">PAN</text>
<text x="913.9" y="1123.0" font-size="16.5" fill="#646a7b" text-anchor="start" font-weight="bold" textLength="30.1" lengthAdjust="spacingAndGlyphs">Cyber-</text>
<text x="913.9" y="1139.0" font-size="16.5" fill="#646a7b" text-anchor="start" font-weight="bold" textLength="33.8" lengthAdjust="spacingAndGlyphs">warfare</text>
<text x="917.5" y="1066.7" font-size="16.5" fill="#fff" text-anchor="middle" font-weight="bold" textLength="26.9" lengthAdjust="spacingAndGlyphs">Cloud</text>
<text x="917.5" y="1082.9" font-size="16.5" fill="#fff" text-anchor="middle" font-weight="bold" textLength="48.5" lengthAdjust="spacingAndGlyphs">computing</text>
<text x="955.0" y="1003.2" font-size="16.5" fill="#646a7b" text-anchor="start" font-weight="bold" textLength="27.9" lengthAdjust="spacingAndGlyphs">Social</text>
<text x="955.0" y="1020.3" font-size="16.5" fill="#646a7b" text-anchor="start" font-weight="bold" textLength="26.4" lengthAdjust="spacingAndGlyphs">graph</text>
<text x="914.3" y="951.0" font-size="16.5" fill="#fff" text-anchor="middle" font-weight="bold" textLength="18.1" lengthAdjust="spacingAndGlyphs">NFC</text>
<text x="901.8" y="882.9" font-size="16.5" fill="#646a7b" text-anchor="start" font-weight="bold" textLength="30.6" lengthAdjust="spacingAndGlyphs">Linked</text>
<text x="901.8" y="896.1" font-size="16.5" fill="#646a7b" text-anchor="start" font-weight="bold" textLength="19.5" lengthAdjust="spacingAndGlyphs">data</text>
<text x="828.2" y="841.2" font-size="16.5" fill="#646a7b" text-anchor="start" font-weight="bold" textLength="42.2" lengthAdjust="spacingAndGlyphs">Semantic</text>
<text x="828.2" y="854.4" font-size="16.5" fill="#646a7b" text-anchor="start" font-weight="bold" textLength="18.5" lengthAdjust="spacingAndGlyphs">web</text>
<text x="670.7" y="977.0" font-size="24.1" fill="#fff" text-anchor="middle" font-weight="bold" textLength="86.0" lengthAdjust="spacingAndGlyphs" stroke="#fff" stroke-width="0.6">INTERNET</text>
<text x="669.8" y="996.9" font-size="17" fill="#fff" text-anchor="middle" textLength="99.8" lengthAdjust="spacingAndGlyphs">(CONNECTIVITY)</text>
</g>
<g id="g-NUI">
<circle cx="918.2" cy="1518.7" r="70.7" fill="#404459" fill-opacity="0.5"/>
<g stroke="#404459" stroke-width="1.7" fill="none">
<line x1="918.2" y1="1518.7" x2="1030.1" y2="1209.5"/>
<line x1="918.2" y1="1518.7" x2="1050.6" y2="1268.7"/>
<line x1="918.2" y1="1518.7" x2="1071" y2="1341.6"/>
<line x1="918.2" y1="1518.7" x2="1079" y2="1412.1"/>
<line x1="918.2" y1="1518.7" x2="1071.8" y2="1493.3"/>
<line x1="918.2" y1="1518.7" x2="1050.2" y2="1567.3"/>
<line x1="918.2" y1="1518.7" x2="1004.7" y2="1647"/>
<line x1="918.2" y1="1518.7" x2="935.2" y2="1731.2"/>
<line x1="918.2" y1="1518.7" x2="807.7" y2="1795.7"/>
</g>
<circle cx="918.2" cy="1518.7" r="62.7" fill="#404459"/>
<circle cx="1030.1" cy="1209.5" r="20.9" fill="#404459"/>
<circle cx="1050.6" cy="1268.7" r="20.9" fill="#404459"/>
<circle cx="1071" cy="1341.6" r="20.9" fill="#404459"/>
<circle cx="1079" cy="1412.1" r="20.9" fill="#404459"/>
<circle cx="1071.8" cy="1493.3" r="20.9" fill="#404459"/>
<circle cx="1050.2" cy="1567.3" r="20.9" fill="#404459"/>
<circle cx="1004.7" cy="1647" r="41.8" fill="#404459"/>
<circle cx="935.2" cy="1731.2" r="41.8" fill="#404459"/>
<circle cx="807.7" cy="1795.7" r="52.4" fill="#404459"/>
<text x="1057.0" y="1204.2" font-size="16.5" fill="#404459" text-anchor="start" font-weight="bold" textLength="22.1" lengthAdjust="spacingAndGlyphs">Multi</text>
<text x="1057.0" y="1221.3" font-size="16.5" fill="#404459" text-anchor="start" font-weight="bold" textLength="25.8" lengthAdjust="spacingAndGlyphs">touch</text>
<text x="1078.9" y="1264.3" font-size="16.5" fill="#404459" text-anchor="start" font-weight="bold" textLength="35.9" lengthAdjust="spacingAndGlyphs">Gesture</text>
<text x="1078.9" y="1280.2" font-size="16.5" fill="#404459" text-anchor="start" font-weight="bold" textLength="51.7" lengthAdjust="spacingAndGlyphs">recognition</text>
<text x="1100.9" y="1345.0" font-size="16.5" fill="#404459" text-anchor="start" font-weight="bold" textLength="13.7" lengthAdjust="spacingAndGlyphs">AR</text>
<text x="1105.9" y="1409.1" font-size="16.5" fill="#404459" text-anchor="start" font-weight="bold" textLength="33.7" lengthAdjust="spacingAndGlyphs">Speech</text>
<text x="1105.9" y="1425.4" font-size="16.5" fill="#404459" text-anchor="start" font-weight="bold" textLength="51.7" lengthAdjust="spacingAndGlyphs">recognition</text>
<text x="1098.7" y="1497.9" font-size="16.5" fill="#404459" text-anchor="start" font-weight="bold" textLength="34.3" lengthAdjust="spacingAndGlyphs">Haptics</text>
<text x="1077.1" y="1572.2" font-size="16.5" fill="#404459" text-anchor="start" font-weight="bold" textLength="52.7" lengthAdjust="spacingAndGlyphs">Holography</text>
<text x="1004.7" y="1653.6" font-size="16.5" fill="#fff" text-anchor="middle" font-weight="bold" textLength="59.9" lengthAdjust="spacingAndGlyphs">Telepresence</text>
<text x="935.2" y="1731.8" font-size="16.5" fill="#fff" text-anchor="middle" font-weight="bold" textLength="38.0" lengthAdjust="spacingAndGlyphs">Machine</text>
<text x="935.2" y="1748.0" font-size="16.5" fill="#fff" text-anchor="middle" font-weight="bold" textLength="27.4" lengthAdjust="spacingAndGlyphs">vision</text>
<text x="807.7" y="1797.0" font-size="16.5" fill="#fff" text-anchor="middle" font-weight="bold" textLength="61.7" lengthAdjust="spacingAndGlyphs">Immersive 3D</text>
<text x="807.7" y="1813.2" font-size="16.5" fill="#fff" text-anchor="middle" font-weight="bold" textLength="51.1" lengthAdjust="spacingAndGlyphs">projections</text>
<text x="919.4" y="1520.9" font-size="24.1" fill="#fff" text-anchor="middle" font-weight="bold" textLength="29.3" lengthAdjust="spacingAndGlyphs" stroke="#fff" stroke-width="0.6">NUI</text>
<text x="919.7" y="1540.6" font-size="17" fill="#fff" text-anchor="middle" textLength="75.4" lengthAdjust="spacingAndGlyphs">(SOFTWARE)</text>
</g>
<g id="g-UBICOMP">
<circle cx="827.1" cy="1470.9" r="70.7" fill="#8b90a9" fill-opacity="0.5"/>
<g stroke="#7d85a5" stroke-width="1.7" fill="none">
<line x1="827.1" y1="1470.9" x2="968.2" y2="1190.9"/>
<line x1="827.1" y1="1470.9" x2="853.3" y2="1302.1"/>
<line x1="827.1" y1="1470.9" x2="768.8" y2="1297.5"/>
<line x1="827.1" y1="1470.9" x2="684.6" y2="1325.1"/>
<line x1="827.1" y1="1470.9" x2="600" y2="1371.3"/>
<line x1="827.1" y1="1470.9" x2="522.6" y2="1444.7"/>
<line x1="827.1" y1="1470.9" x2="454.5" y2="1561.3"/>
<line x1="827.1" y1="1470.9" x2="417.3" y2="1700.9"/>
<line x1="827.1" y1="1470.9" x2="424.2" y2="1839.3"/>
<line x1="827.1" y1="1470.9" x2="479.2" y2="1986.5"/>
</g>
<circle cx="827.1" cy="1470.9" r="62.7" fill="#8b90a9"/>
<circle cx="968.2" cy="1190.9" r="41.8" fill="#8b90a9"/>
<circle cx="853.3" cy="1302.1" r="20.9" fill="#8b90a9"/>
<circle cx="768.8" cy="1297.5" r="31.5" fill="#8b90a9"/>
<circle cx="684.6" cy="1325.1" r="31.5" fill="#8b90a9"/>
<circle cx="600" cy="1371.3" r="31.5" fill="#8b90a9"/>
<circle cx="522.6" cy="1444.7" r="41.8" fill="#8b90a9"/>
<circle cx="454.5" cy="1561.3" r="52.4" fill="#8b90a9"/>
<circle cx="417.3" cy="1700.9" r="52.4" fill="#8b90a9"/>
<circle cx="424.2" cy="1839.3" r="52.4" fill="#8b90a9"/>
<circle cx="479.2" cy="1986.5" r="63" fill="#8b90a9"/>
<text x="968.2" y="1189.5" font-size="16.5" fill="#fff" text-anchor="middle" font-weight="bold" textLength="30.9" lengthAdjust="spacingAndGlyphs">Tabs &amp;</text>
<text x="968.2" y="1205.7" font-size="16.5" fill="#fff" text-anchor="middle" font-weight="bold" textLength="22.7" lengthAdjust="spacingAndGlyphs">Pads</text>
<text x="853.3" y="1308.7" font-size="16.5" fill="#fff" text-anchor="middle" font-weight="bold" textLength="11.3" lengthAdjust="spacingAndGlyphs">3D</text>
<text x="768.8" y="1303.3" font-size="16.5" fill="#fff" text-anchor="middle" font-weight="bold" textLength="32.7" lengthAdjust="spacingAndGlyphs">Boards</text>
<text x="684.6" y="1325.4" font-size="16.5" fill="#fff" text-anchor="middle" font-weight="bold" textLength="45.9" lengthAdjust="spacingAndGlyphs">Electronic</text>
<text x="684.6" y="1341.6" font-size="16.5" fill="#fff" text-anchor="middle" font-weight="bold" textLength="25.8" lengthAdjust="spacingAndGlyphs">paper</text>
<text x="600.0" y="1366.5" font-size="16.5" fill="#fff" text-anchor="middle" font-weight="bold" textLength="23.2" lengthAdjust="spacingAndGlyphs">Pico-</text>
<text x="600.0" y="1382.7" font-size="16.5" fill="#fff" text-anchor="middle" font-weight="bold" textLength="46.4" lengthAdjust="spacingAndGlyphs">projectors</text>
<text x="522.6" y="1450.0" font-size="16.5" fill="#fff" text-anchor="middle" font-weight="bold" textLength="33.3" lengthAdjust="spacingAndGlyphs">SPIMES</text>
<text x="454.5" y="1551.9" font-size="16.5" fill="#fff" text-anchor="middle" font-weight="bold" textLength="31.6" lengthAdjust="spacingAndGlyphs">Fabric-</text>
<text x="454.5" y="1568.1" font-size="16.5" fill="#fff" text-anchor="middle" font-weight="bold" textLength="47.4" lengthAdjust="spacingAndGlyphs">embedded</text>
<text x="454.5" y="1584.3" font-size="16.5" fill="#fff" text-anchor="middle" font-weight="bold" textLength="35.9" lengthAdjust="spacingAndGlyphs">screens</text>
<text x="417.3" y="1707.5" font-size="16.5" fill="#fff" text-anchor="middle" font-weight="bold" textLength="66.4" lengthAdjust="spacingAndGlyphs">Smart clothing</text>
<text x="424.2" y="1837.9" font-size="16.5" fill="#fff" text-anchor="middle" font-weight="bold" textLength="31.6" lengthAdjust="spacingAndGlyphs">Retinal</text>
<text x="424.2" y="1854.1" font-size="16.5" fill="#fff" text-anchor="middle" font-weight="bold" textLength="35.9" lengthAdjust="spacingAndGlyphs">screens</text>
<text x="479.2" y="1985.1" font-size="16.5" fill="#fff" text-anchor="middle" font-weight="bold" textLength="70.6" lengthAdjust="spacingAndGlyphs">Skin-embedded</text>
<text x="479.2" y="2001.3" font-size="16.5" fill="#fff" text-anchor="middle" font-weight="bold" textLength="35.9" lengthAdjust="spacingAndGlyphs">screens</text>
<text x="827.4" y="1471.7" font-size="24.1" fill="#fff" text-anchor="middle" font-weight="bold" textLength="79.5" lengthAdjust="spacingAndGlyphs" stroke="#fff" stroke-width="0.6">UBICOMP</text>
<text x="826.8" y="1491.9" font-size="17" fill="#fff" text-anchor="middle" textLength="78.9" lengthAdjust="spacingAndGlyphs">(HARDWARE)</text>
</g>
<text x="1976.7" y="1647.4" font-size="16.5" fill="#789b7b" text-anchor="start" font-weight="bold" textLength="34.8" lengthAdjust="spacingAndGlyphs">Nuclear</text>
<text x="1826.0" y="1708.8" font-size="16.5" fill="#789b7b" text-anchor="start" font-weight="bold" textLength="31.6" lengthAdjust="spacingAndGlyphs">Kinetic</text>
<text x="1693.6" y="1840.9" font-size="16.5" fill="#789b7b" text-anchor="start" font-weight="bold" textLength="23.7" lengthAdjust="spacingAndGlyphs">Solar</text>
<circle cx="1099.5" cy="1099.5" r="88.3" fill="#575756"/>
<text x="1100.9" y="1111.7" font-size="45.5" fill="#fff" text-anchor="middle" font-weight="bold" textLength="79.5" lengthAdjust="spacingAndGlyphs">now</text>
<text x="1099.6" y="1149.2" font-size="27.5" fill="#a0a0a0" text-anchor="middle" textLength="59.8" lengthAdjust="spacingAndGlyphs" stroke="#575756" stroke-width="1.1">(2011)</text>
<text x="34.9" y="67.1" font-size="48.2" fill="#333" text-anchor="start" textLength="372.3" lengthAdjust="spacingAndGlyphs" stroke="#333" stroke-width="1.4">Envisioning the near</text>
<text x="33.8" y="107.6" font-size="48.2" fill="#333" text-anchor="start" textLength="377.3" lengthAdjust="spacingAndGlyphs" stroke="#333" stroke-width="1.4">future of technology</text>
<text x="35.6" y="134.4" font-size="18.5" fill="#dcdcdc" text-anchor="start" textLength="185.2" lengthAdjust="spacingAndGlyphs" stroke="#fff" stroke-width="0.5">Last updated: 2011-03-29</text>
<text x="44.2" y="1395.6" font-size="16.3" fill="#8c8c8c" text-anchor="start" textLength="64.4" lengthAdjust="spacingAndGlyphs">ACRONYMS</text>
<text x="68.3" y="1424.7" font-size="16.3" fill="#151515" text-anchor="end" font-weight="bold" textLength="16.0" lengthAdjust="spacingAndGlyphs" stroke="#151515" stroke-width="0.4">3D</text>
<text x="112.5" y="1424.7" font-size="16.3" fill="#151515" text-anchor="start" textLength="142.1" lengthAdjust="spacingAndGlyphs" stroke="#151515" stroke-width="0.35">3D screens and cameras</text>
<text x="68.3" y="1458.7" font-size="16.3" fill="#151515" text-anchor="end" font-weight="bold" textLength="16.7" lengthAdjust="spacingAndGlyphs" stroke="#151515" stroke-width="0.4">4G</text>
<text x="112.5" y="1458.7" font-size="16.3" fill="#151515" text-anchor="start" textLength="239.8" lengthAdjust="spacingAndGlyphs" stroke="#151515" stroke-width="0.35">Fourth gen cellular wireless (WiMAX, LTE)</text>
<text x="68.3" y="1491.7" font-size="16.3" fill="#151515" text-anchor="end" font-weight="bold" textLength="16.7" lengthAdjust="spacingAndGlyphs" stroke="#151515" stroke-width="0.4">5G</text>
<text x="112.5" y="1491.7" font-size="16.3" fill="#151515" text-anchor="start" textLength="143.5" lengthAdjust="spacingAndGlyphs" stroke="#151515" stroke-width="0.35">Fifth gen cellular wireless</text>
<text x="68.3" y="1524.5" font-size="16.3" fill="#151515" text-anchor="end" font-weight="bold" textLength="18.1" lengthAdjust="spacingAndGlyphs" stroke="#151515" stroke-width="0.4">AR</text>
<text x="112.5" y="1524.5" font-size="16.3" fill="#151515" text-anchor="start" textLength="108.0" lengthAdjust="spacingAndGlyphs" stroke="#151515" stroke-width="0.35">Augmented Reality</text>
<text x="68.3" y="1558.1" font-size="16.3" fill="#151515" text-anchor="end" font-weight="bold" textLength="26.4" lengthAdjust="spacingAndGlyphs" stroke="#151515" stroke-width="0.4">HAP</text>
<text x="112.5" y="1558.1" font-size="16.3" fill="#151515" text-anchor="start" textLength="122.9" lengthAdjust="spacingAndGlyphs" stroke="#151515" stroke-width="0.35">High Altitude Platform</text>
<text x="68.3" y="1591.9" font-size="16.3" fill="#151515" text-anchor="end" font-weight="bold" textLength="25.7" lengthAdjust="spacingAndGlyphs" stroke="#151515" stroke-width="0.4">NFC</text>
<text x="112.5" y="1591.9" font-size="16.3" fill="#151515" text-anchor="start" textLength="151.3" lengthAdjust="spacingAndGlyphs" stroke="#151515" stroke-width="0.35">Near Field Communication</text>
<text x="68.3" y="1625.2" font-size="16.3" fill="#151515" text-anchor="end" font-weight="bold" textLength="21.5" lengthAdjust="spacingAndGlyphs" stroke="#151515" stroke-width="0.4">NUI</text>
<text x="112.5" y="1625.2" font-size="16.3" fill="#151515" text-anchor="start" textLength="125.0" lengthAdjust="spacingAndGlyphs" stroke="#151515" stroke-width="0.35">Natural User Interface</text>
<text x="68.3" y="1658.2" font-size="16.3" fill="#151515" text-anchor="end" font-weight="bold" textLength="25.5" lengthAdjust="spacingAndGlyphs" stroke="#151515" stroke-width="0.4">PAN</text>
<text x="112.5" y="1658.2" font-size="16.3" fill="#151515" text-anchor="start" textLength="137.1" lengthAdjust="spacingAndGlyphs" stroke="#151515" stroke-width="0.35">Personal Area Networks</text>
<text x="68.3" y="1691.2" font-size="16.3" fill="#151515" text-anchor="end" font-weight="bold" textLength="26.4" lengthAdjust="spacingAndGlyphs" stroke="#151515" stroke-width="0.4">PGS</text>
<text x="112.5" y="1691.2" font-size="16.3" fill="#151515" text-anchor="start" textLength="156.3" lengthAdjust="spacingAndGlyphs" stroke="#151515" stroke-width="0.35">Personal Gene Sequencing</text>
<text x="68.3" y="1724.8" font-size="16.3" fill="#151515" text-anchor="end" font-weight="bold" textLength="38.9" lengthAdjust="spacingAndGlyphs" stroke="#151515" stroke-width="0.4">SPIME</text>
<text x="112.5" y="1724.8" font-size="16.3" fill="#151515" text-anchor="start" textLength="165.5" lengthAdjust="spacingAndGlyphs" stroke="#151515" stroke-width="0.35">An object that can be tracked</text>
<text x="112.5" y="1740.7" font-size="16.3" fill="#151515" stroke="#151515" stroke-width="0.35" textLength="136.4" lengthAdjust="spacingAndGlyphs">through <tspan font-weight="bold">sp</tspan>ace and t<tspan font-weight="bold">ime</tspan></text>
<text x="68.3" y="1775.0" font-size="16.3" fill="#151515" text-anchor="end" font-weight="bold" textLength="25.5" lengthAdjust="spacingAndGlyphs" stroke="#151515" stroke-width="0.4">UAV</text>
<text x="112.5" y="1775.0" font-size="16.3" fill="#151515" text-anchor="start" textLength="142.8" lengthAdjust="spacingAndGlyphs" stroke="#151515" stroke-width="0.35">Unmanned Aerial Vehicle</text>
<text x="68.3" y="1806.0" font-size="16.3" fill="#151515" text-anchor="end" font-weight="bold" textLength="47.7" lengthAdjust="spacingAndGlyphs" stroke="#151515" stroke-width="0.4">VASIMR</text>
<text x="112.5" y="1808.0" font-size="16.3" fill="#151515" text-anchor="start" textLength="142.5" lengthAdjust="spacingAndGlyphs" stroke="#151515" stroke-width="0.35">Variable Specific Impulse</text>
<text x="112.5" y="1823.9" font-size="16.3" fill="#151515" text-anchor="start" textLength="134.2" lengthAdjust="spacingAndGlyphs" stroke="#151515" stroke-width="0.35">Magnetoplasma Rocket</text>
<text x="195.8" y="2083.0" font-size="33" fill="#858585" text-anchor="end" textLength="164.4" lengthAdjust="spacingAndGlyphs" stroke="#fbfbfb" stroke-width="1.0">Learn more:</text>
<text x="195.8" y="2124.0" font-size="33" fill="#858585" text-anchor="end" textLength="163.7" lengthAdjust="spacingAndGlyphs" stroke="#fbfbfb" stroke-width="1.0">Contact me:</text>
<text x="195.8" y="2164.8" font-size="33" fill="#858585" text-anchor="end" textLength="140.6" lengthAdjust="spacingAndGlyphs" stroke="#fbfbfb" stroke-width="1.0">Follow me:</text>
<text x="216.6" y="2083.0" font-size="33" fill="#111" text-anchor="start" font-weight="bold" textLength="101.0" lengthAdjust="spacingAndGlyphs">michell</text>
<text x="324.1" y="2083.0" font-size="33" fill="#111" text-anchor="start" font-weight="bold" textLength="85.0" lengthAdjust="spacingAndGlyphs">zappa</text>
<text x="216.6" y="2124.0" font-size="33" fill="#111" text-anchor="start" font-weight="bold" textLength="101.0" lengthAdjust="spacingAndGlyphs">michell</text>
<text x="324.1" y="2124.0" font-size="33" fill="#111" text-anchor="start" font-weight="bold" textLength="85.0" lengthAdjust="spacingAndGlyphs">zappa</text>
<text x="410.8" y="2083.0" font-size="33" fill="#111" text-anchor="start" textLength="64.2" lengthAdjust="spacingAndGlyphs" stroke="#f9f9f9" stroke-width="0.9">.com</text>
<text x="411.7" y="2124.0" font-size="33" fill="#111" text-anchor="start" textLength="166.9" lengthAdjust="spacingAndGlyphs" stroke="#f9f9f9" stroke-width="0.9">@gmail.com</text>
<text x="216.6" y="2164.8" font-size="33" fill="#111" text-anchor="start" textLength="24.7" lengthAdjust="spacingAndGlyphs" stroke="#fff" stroke-width="0.9">@</text>
<text x="242.9" y="2164.8" font-size="33" fill="#111" text-anchor="start" font-weight="bold" textLength="42.7" lengthAdjust="spacingAndGlyphs">mz</text>
<circle cx="1942.9" cy="2116.5" r="31" fill="#fff" stroke="#c8c8c8" stroke-width="1.9"/>
<circle cx="2038.7" cy="2116.5" r="31" fill="#fff" stroke="#c8c8c8" stroke-width="1.9"/>
<circle cx="2133.1" cy="2116.5" r="31" fill="#fff" stroke="#c8c8c8" stroke-width="1.9"/>
<text x="1942.9" y="2127.7" font-size="31" fill="#7d7d7d" text-anchor="middle" textLength="39.5" lengthAdjust="spacingAndGlyphs" stroke="#fff" stroke-width="0.6">CC</text>
<g fill="#808080"><circle cx="2038.7" cy="2098.4" r="4.2"/><rect x="2031.9" y="2104.5" width="13.7" height="15.4" rx="1.2"/><rect x="2034.6" y="2119" width="8.3" height="17.2"/></g>
<path d="M2116.55 2110.3 A17.8 17.8 0 1 1 2116.47 2122.7" fill="none" stroke="#7d7d7d" stroke-width="1.7"/>
<path d="M2112.3 2110.2 L2121.9 2110.2 L2117.2 2117.7 Z" fill="#7d7d7d"/>
<text x="2038.7" y="2175.8" font-size="16" fill="#8a8a8a" text-anchor="middle" textLength="20.3" lengthAdjust="spacingAndGlyphs" stroke="#fff" stroke-width="0.5">BY</text>
<text x="2133.1" y="2175.8" font-size="16" fill="#8a8a8a" text-anchor="middle" textLength="20.3" lengthAdjust="spacingAndGlyphs" stroke="#fff" stroke-width="0.5">SA</text>
</svg></body></html>
